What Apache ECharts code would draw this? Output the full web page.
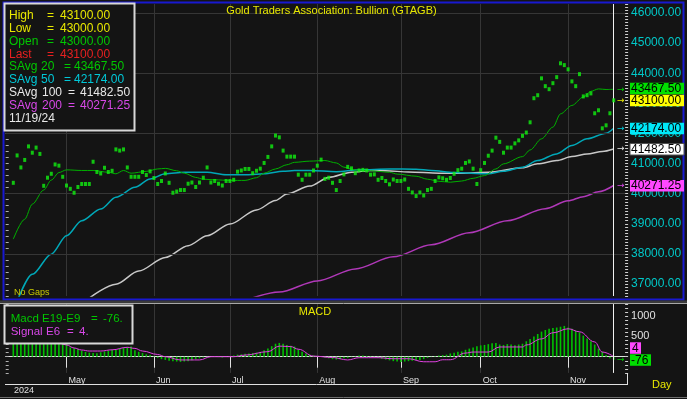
<!DOCTYPE html>
<html>
<head>
<meta charset="utf-8">
<title>GTAGB</title>
<script src="https://cdn.jsdelivr.net/npm/echarts@6/dist/echarts.min.js"></script>
<style>
  html, body { margin: 0; padding: 0; background: #141414; }
  #main { width: 687px; height: 399px; }
</style>
</head>
<body>
<div id="main"></div>
<script>
// weekdays shown on the chart, 11 Apr - 19 Nov 2024 ("No Gaps")
var aprDays = [11, 12, 15, 16, 17, 18, 19, 22, 23, 24, 25, 26, 29, 30];
var mayDays = [1, 2, 3, 6, 7, 8, 9, 10, 13, 14, 15, 16, 17, 20, 21, 22, 23, 24, 27, 28, 29, 30, 31];
var junDays = [3, 4, 5, 6, 7, 10, 11, 12, 13, 14, 17, 18, 19, 20, 21, 24, 25, 26, 27, 28];
var julDays = [1, 2, 3, 4, 5, 8, 9, 10, 11, 12, 15, 16, 17, 18, 19, 22, 23, 24, 25, 26, 29, 30, 31];
var augDays = [1, 2, 5, 6, 7, 8, 9, 12, 13, 14, 15, 16, 19, 20, 21, 22, 23, 26, 27, 28, 29, 30];
var sepDays = [2, 3, 4, 5, 6, 9, 10, 11, 12, 13, 16, 17, 18, 19, 20, 23, 24, 25, 26, 27, 30];
var octDays = [1, 2, 3, 4, 7, 8, 9, 10, 11, 14, 15, 16, 17, 18, 21, 22, 23, 24, 25, 28, 29, 30, 31];
var novDays = [1, 4, 5, 6, 7, 8, 11, 12, 13, 14, 15, 18, 19];
var monthNames = ['', 'Jan', 'Feb', 'Mar', 'Apr', 'May', 'Jun', 'Jul', 'Aug', 'Sep', 'Oct', 'Nov', 'Dec'];

// daily last price
var closes = [
  40360, 41270, 40870, 41120, 41570, 41360, 41530, 41320, 40260, 40530,
  40660, 40970, 40930, 40560, 40270, 40160, 40030, 40220, 40320, 40320,
  40320, 41060, 40720, 40670, 40860, 40720, 40760, 41470, 41430, 41470,
  40870, 40560, 40560, 40560, 40720, 40620, 40740, 40520, 40320, 40420,
  40670, 40360, 40030, 40070, 40120, 40120, 40330, 40370, 40220, 40370,
  40530, 40870, 40370, 40420, 40330, 40270, 40420, 40420, 40460, 40730,
  40770, 40820, 40820, 40680, 40760, 40830, 41020, 41220, 41570, 41930,
  41870, 41430, 41230, 41230, 41230, 40630, 40460, 40630, 40630, 40770,
  40930, 41130, 40490, 40530, 40360, 40120, 40420, 40640, 40890, 40840,
  40680, 40770, 40790, 40770, 40630, 40640, 40460, 40520, 40420, 40310,
  40470, 40420, 40420, 40470, 40160, 40040, 39920, 40040, 39940, 40120,
  40160, 40420, 40540, 40510, 40460, 40520, 40660, 40780, 40830, 41020,
  41070, 40830, 40320, 40780, 41020, 41260, 41430, 41860, 41720, 41360,
  41530, 41530, 41670, 41770, 41920, 42030, 42370, 43170, 43270, 43830,
  43570, 43470, 43670, 43870, 44330, 44270, 44130, 43730, 43570, 43970,
  43230, 43270, 43330, 42670, 42770, 42170, 42270, 42670, 43100
];

// simple averages at these day numbers
var ma20Idx = [0, 3, 5, 8, 10, 12, 14, 18, 21, 25, 27, 29, 31, 35, 38, 40, 43, 45, 48, 50, 53, 57, 61, 64, 66, 69, 72, 74, 78, 82, 85, 87, 90, 94, 99, 101, 106, 109, 112, 115, 118, 121, 124, 127, 129, 134, 136, 139, 142, 144, 147, 150, 152, 154, 156, 158];
var ma20Val = [38490, 39150, 39650, 40120, 40450, 40700, 40790, 40770, 40770, 40710, 40660, 40770, 40680, 40740, 40820, 40840, 40760, 40680, 40540, 40480, 40460, 40440, 40440, 40530, 40680, 40820, 40960, 41040, 41080, 41100, 41020, 40880, 40790, 40760, 40710, 40650, 40580, 40480, 40410, 40380, 40420, 40510, 40600, 40820, 40990, 41230, 41450, 41820, 42210, 42650, 42930, 43210, 43400, 43480, 43460, 43467.5];
var ma50Idx = [1, 5, 10, 14, 18, 23, 27, 32, 36, 40, 45, 51, 56, 62, 66, 71, 74, 78, 85, 91, 99, 106, 110, 116, 125, 129, 134, 138, 143, 147, 151, 156, 158];
var ma50Val = [36420, 37320, 37990, 38600, 39100, 39490, 39880, 40210, 40490, 40660, 40710, 40710, 40630, 40630, 40660, 40740, 40770, 40770, 40730, 40790, 40820, 40810, 40770, 40700, 40660, 40740, 40880, 41100, 41320, 41600, 41820, 42010, 42174];
var ma100Idx = [20, 27, 33, 40, 46, 51, 57, 64, 69, 72, 78, 83, 89, 94, 98, 104, 112, 118, 125, 134, 138, 143, 147, 151, 155, 158];
var ma100Val = [36530, 36990, 37430, 37880, 38270, 38600, 38990, 39460, 39770, 39990, 40250, 40540, 40710, 40770, 40760, 40720, 40680, 40680, 40710, 40860, 40990, 41100, 41230, 41320, 41400, 41482.5];
var ma200Idx = [63, 70, 80, 90, 100, 110, 120, 130, 140, 146, 150, 154, 158];
var ma200Val = [36540, 36730, 37100, 37500, 37900, 38300, 38700, 39100, 39500, 39760, 39900, 40060, 40271.25];

// MACD (E19-E9) histogram, one per day
var macd = [
  700, 690, 680, 660, 650, 630, 610, 590, 540, 500, 470, 450, 430, 400, 340,
  230, 210, 190, 150, 120, 100, 90, 85, 110, 130, 150, 170, 180, 200, 220, 240, 250,
  160, 120, 90, 60, 40, 10, -30, -60, -80, -100, -110, -120, -130, -120, -110, -90, -60, -40, -20, -10, 0,
  10, -10, -20, 0, 10, 30, 50, 60, 70, 80, 90, 100, 120, 160, 200, 260, 320, 340, 320, 290, 270, 250,
  180, 120, 80, 50, 30, 10, -10, -20, -40, -60, -70, -60, -40, -30, -10, 10, 30, 30, 20, 10,
  -10, -30, -50, -70, -90, -110, -120, -130, -120, -110, -100, -90, -80, -60, -30, -10, 10, 30, 40, 50, 80, 100, 120, 130,
  170, 200, 230, 260, 280, 290, 310, 330, 340, 300, 290, 310, 300, 280, 300, 320, 380, 440, 500, 560,
  620, 660, 690, 710, 720, 740, 760, 720, 690, 640, 600, 520, 450, 380, 300, 200, 120, 40, -40, -76
];
// signal E6
var sigIdx = [0, 5, 10, 14, 16, 18, 20, 23, 26, 30, 32, 34, 38, 40, 44, 49, 52, 58, 61, 67, 70, 73, 75, 79, 84, 88, 91, 96, 100, 104, 108, 111, 113, 115, 119, 121, 125, 128, 134, 135, 139, 142, 146, 149, 153, 155, 158];
var sigVal = [560, 500, 420, 290, 215, 165, 140, 140, 170, 232, 205, 140, 55, 0, -80, -80, 0, 0, 40, 125, 260, 250, 185, 15, -20, -80, -25, -25, -50, -50, -125, -125, -75, -75, 90, 115, 115, 240, 240, 290, 440, 590, 690, 615, 365, 115, 4];

// readout for the last bar
var lastDate = '11/19/24';
var lastHigh = 43100, lastLow = 43000, lastOpen = 43000, lastPrice = 43100;
var savgLen = [20, 50, 100, 200];
var savgLast = [43467.50, 42174.00, 41482.50, 40271.25];
var macdLast = -76, signalLast = 4;
var priceGridLevels = [38000, 40000, 42000, 44000, 46000];

var FONT = '"Liberation Sans", Arial, sans-serif';
var GRID = '#363636';
var YELLOW = '#e8e800', GREEN = '#00c800', RED = '#e82020', CYAN = '#00c8d8', WHITE = '#e8e8e8', MAGENTA = '#d848e8';
var savgColor = [GREEN, CYAN, WHITE, MAGENTA];
var savgLine = ['#00b000', '#00a8b8', '#c8c8c8', '#b038b8'];
var savgBox = ['#00e000', '#00e8f8', '#ffffff', '#ff48ff'];

var dates = [];
[[4, aprDays], [5, mayDays], [6, junDays], [7, julDays], [8, augDays], [9, sepDays], [10, octDays], [11, novDays]].forEach(function (m) {
  m[1].forEach(function (d) { dates.push(m[0] + '/' + d + '/24'); });
});
var PADL = 2, PADR = 3;
var cats = [];
for (var k = 0; k < PADL; k++) cats.push('pl' + k);
cats = cats.concat(dates);
for (k = 0; k < PADR; k++) cats.push('pr' + k);

function monthTick(idx) {
  var j = idx - PADL;
  if (j <= 0 || j >= dates.length) return false;
  return dates[j].split('/')[0] !== dates[j - 1].split('/')[0];
}
function monthLabel(v) {
  return monthNames[+v.split('/')[0]] || '';
}
function pairs(idx, vals) {
  return idx.map(function (d, n) { return [d + PADL, vals[n]]; });
}
function maSeries(n) {
  var idx = [ma20Idx, ma50Idx, ma100Idx, ma200Idx][n];
  var val = [ma20Val, ma50Val, ma100Val, ma200Val][n];
  return {
    type: 'line', name: 'SAvg ' + savgLen[n], xAxisIndex: 0, yAxisIndex: 0,
    data: pairs(idx, val), symbol: 'none', smooth: 0.3, smoothMonotone: 'x',
    lineStyle: { color: savgLine[n], width: n === 0 ? 1 : 1.5 },
    emphasis: { disabled: true }, z: 2
  };
}

var cursor = {
  silent: true, symbol: ['none', 'none'], label: { show: false },
  lineStyle: { color: '#f0f0f0', type: 'solid', width: 1 },
  data: [{ xAxis: lastDate }]
};

var s200 = maSeries(3);
s200.markLine = {
  silent: true, symbol: ['none', 'none'], label: { show: false },
  lineStyle: { color: GRID, type: 'solid', width: 1 },
  data: priceGridLevels.map(function (v) { return { yAxis: v }; })
};

var option = {
  backgroundColor: '#141414',
  animation: false,
  grid: [
    { left: 5.7, width: 619.4, top: 4, height: 292 },
    { left: 5.7, width: 619.4, top: 304.05, height: 68.85 }
  ],
  xAxis: [
    {
      type: 'category', gridIndex: 0, data: cats, boundaryGap: false,
      axisLine: { show: false }, axisTick: { show: false }, axisLabel: { show: false },
      splitLine: { show: true, interval: monthTick, lineStyle: { color: GRID } }
    },
    {
      type: 'category', gridIndex: 1, data: cats, boundaryGap: false,
      axisLine: { show: true, lineStyle: { color: '#e0e0e0', width: 1 } },
      axisTick: { show: true, interval: monthTick, length: 11, lineStyle: { color: '#e0e0e0' } },
      axisLabel: {
        show: true, interval: monthTick, formatter: monthLabel, color: '#e0e0e0',
        fontSize: 9, fontFamily: FONT, align: 'left', margin: 3, padding: [0, 0, 0, 2]
      },
      splitLine: { show: true, interval: monthTick, lineStyle: { color: GRID } }
    }
  ],
  yAxis: [
    {
      type: 'value', gridIndex: 0, position: 'right', min: 36600, max: 46300, interval: 100,
      axisLine: { show: false },
      axisTick: { show: true, length: 3, lineStyle: { color: '#d0d0d0' } },
      axisLabel: {
        formatter: function (v) { return v % 1000 === 0 ? v.toFixed(2) : ''; },
        color: '#00c8c8', fontSize: 12, fontFamily: FONT, margin: 6
      },
      splitLine: { show: false }
    },
    {
      type: 'value', gridIndex: 0, position: 'left', min: 36600, max: 46300, interval: 200,
      axisLine: { show: false },
      axisTick: { show: true, inside: true, length: 3, lineStyle: { color: '#b0b0b0' } },
      axisLabel: { show: false }, splitLine: { show: false }
    },
    {
      type: 'value', gridIndex: 1, position: 'right', min: -400, max: 1300, interval: 100,
      axisLine: { show: false },
      axisTick: { show: true, length: 3, lineStyle: { color: '#d0d0d0' } },
      axisLabel: {
        formatter: function (v) { return (v === 500 || v === 1000) ? String(v) : ''; },
        color: '#e0e0e0', fontSize: 11, fontFamily: FONT, margin: 6
      },
      splitLine: { show: false }
    },
    {
      type: 'value', gridIndex: 1, position: 'left', min: -400, max: 1300, interval: 100,
      axisLine: { show: false },
      axisTick: { show: true, inside: true, length: 3, lineStyle: { color: '#b0b0b0' } },
      axisLabel: { show: false }, splitLine: { show: false }
    }
  ],
  series: [
    s200, maSeries(2), maSeries(1), maSeries(0),
    {
      type: 'scatter', name: 'Bullion', xAxisIndex: 0, yAxisIndex: 0,
      data: closes.map(function (v, i) { return [i + PADL, v]; }),
      symbol: 'rect', symbolSize: [3, 4], itemStyle: { color: '#10f010' },
      emphasis: { disabled: true }, z: 5, markLine: cursor
    },
    {
      type: 'bar', name: 'Macd', xAxisIndex: 1, yAxisIndex: 2,
      data: macd.map(function (v, i) { return [i + PADL, v]; }),
      barWidth: 1.6, itemStyle: { color: '#00c000' },
      emphasis: { disabled: true }, markLine: cursor
    },
    {
      type: 'line', name: 'Signal', xAxisIndex: 1, yAxisIndex: 2,
      data: pairs(sigIdx, sigVal), symbol: 'none', smooth: 0.4, smoothMonotone: 'x',
      lineStyle: { color: '#e040e0', width: 1 }, emphasis: { disabled: true }, z: 3
    }
  ]
};

var chart = echarts.init(document.getElementById('main'));
chart.setOption(option);

// ---- overlay: frames, readouts, value tags ----
function txt(x, y, s, color, size, align) {
  return {
    type: 'text', z: 120,
    style: { text: s, x: x, y: y, fill: color, font: size + 'px ' + FONT, align: align || 'left', verticalAlign: 'middle' }
  };
}
function rect(x, y, w, h, fill, stroke, lw, z) {
  return { type: 'rect', z: z || 100, shape: { x: x, y: y, width: w, height: h }, style: { fill: fill || 'none', stroke: stroke || 'none', lineWidth: lw || 1 } };
}
function line(x1, y1, x2, y2, color, lw) {
  return { type: 'line', z: 100, shape: { x1: x1, y1: y1, x2: x2, y2: y2 }, style: { stroke: color, lineWidth: lw || 1 } };
}

var g = [];
g.push(rect(3.5, 2.5, 680, 297, 'none', '#1818d0', 2));
g.push(rect(0, 300.5, 687, 2.5, '#3a3a3a', 'none', 0));
g.push(line(0, 303.5, 687, 303.5, '#a8a8a8', 1));
g.push(line(5, 384.5, 628, 384.5, '#e0e0e0', 1));
g.push(line(627.5, 373, 627.5, 384.5, '#e0e0e0', 1));
g.push(line(0, 397.5, 687, 397.5, '#707070', 1));

g.push(txt(331.5, 11, 'Gold Traders Association: Bullion (GTAGB)', YELLOW, 11, 'center'));
g.push(txt(14, 292.5, 'No Gaps', '#c8c800', 9));
g.push(txt(315, 312, 'MACD', YELLOW, 11, 'center'));
g.push(txt(14, 390.5, '2024', '#e0e0e0', 9));
g.push(txt(652, 385, 'Day', YELLOW, 11));

// price readout box
g.push(rect(4.5, 3.5, 130, 127, '#141414', '#d8d8d8', 2, 110));
var y0 = 15.5, dy = 12.9;
var ohlc = [['High', lastHigh, YELLOW], ['Low', lastLow, YELLOW], ['Open', lastOpen, GREEN], ['Last', lastPrice, RED]];
ohlc.forEach(function (r, n) {
  var y = y0 + n * dy;
  g.push(txt(9, y, r[0], r[2], 12));
  g.push(txt(47, y, '=', r[2], 12));
  g.push(txt(60, y, r[1].toFixed(2), r[2], 12));
});
savgLen.forEach(function (len, n) {
  var y = y0 + (4 + n) * dy;
  var wide = len >= 100;
  g.push(txt(9, y, 'SAvg', savgColor[n], 12));
  g.push(txt(wide ? 42 : 41, y, String(len), savgColor[n], 12));
  g.push(txt(wide ? 68 : 64, y, '=', savgColor[n], 12));
  g.push(txt(wide ? 80 : 74, y, savgLast[n].toFixed(2), savgColor[n], 12));
});
g.push(txt(9, y0 + 8 * dy, lastDate, WHITE, 12));

// macd readout box
g.push(rect(4.5, 305.5, 128, 38, '#141414', '#d8d8d8', 2, 110));
g.push(txt(10.7, 319.3, 'Macd', GREEN, 11.5));
g.push(txt(42, 319.3, 'E19-E9', GREEN, 11.5));
g.push(txt(91, 319.3, '=', GREEN, 11.5));
g.push(txt(103, 319.3, macdLast + '.', GREEN, 11.5));
g.push(txt(10.7, 331.7, 'Signal', MAGENTA, 11.5));
g.push(txt(46, 331.7, 'E6', MAGENTA, 11.5));
g.push(txt(67, 331.7, '=', MAGENTA, 11.5));
g.push(txt(79, 331.7, signalLast + '.', MAGENTA, 11.5));

// value tags on the price scale
var tags = savgLast.map(function (v, n) {
  return { v: v, label: v.toFixed(2), box: savgBox[n], arrow: savgColor[n] };
});
tags.push({ v: lastPrice, label: lastPrice.toFixed(2), box: '#ffff00', arrow: YELLOW });
tags.forEach(function (t) { t.y = chart.convertToPixel({ yAxisIndex: 0 }, t.v); t.ty = t.y; });
tags.sort(function (a, b) { return b.y - a.y; });
for (var i = 1; i < tags.length; i++) {
  if (tags[i].ty > tags[i - 1].ty - 12) tags[i].ty = tags[i - 1].ty - 12;
}
tags.forEach(function (t) {
  g.push({ type: 'text', z: 120, style: { text: '\u2192', x: 617, y: t.y, fill: t.arrow, font: '9px "DejaVu Sans"', verticalAlign: 'middle' } });
  g.push(rect(630, t.ty - 5.5, 54, 11.5, t.box, t.box === '#ffffff' ? '#505050' : 'none', 1, 115));
  g.push(txt(631, t.ty + 0.5, t.label, '#000000', 12));
});

// value tags on the macd scale
var yM = chart.convertToPixel({ yAxisIndex: 2 }, macdLast);
var yS = Math.min(chart.convertToPixel({ yAxisIndex: 2 }, signalLast), yM - 12);
g.push({ type: 'text', z: 120, style: { text: '\u2192', x: 617, y: yM, fill: GREEN, font: '9px "DejaVu Sans"', verticalAlign: 'middle' } });
g.push(rect(630, yM - 5.5, 21, 11.5, '#00e000', 'none', 0, 115));
g.push(txt(631, yM + 0.5, String(macdLast), '#000000', 12));
g.push(rect(630, yS - 5.5, 11, 11.5, '#ff48ff', 'none', 0, 115));
g.push(txt(632, yS + 0.5, String(signalLast), '#000000', 12));

chart.setOption({ graphic: g });
</script>
</body>
</html>
